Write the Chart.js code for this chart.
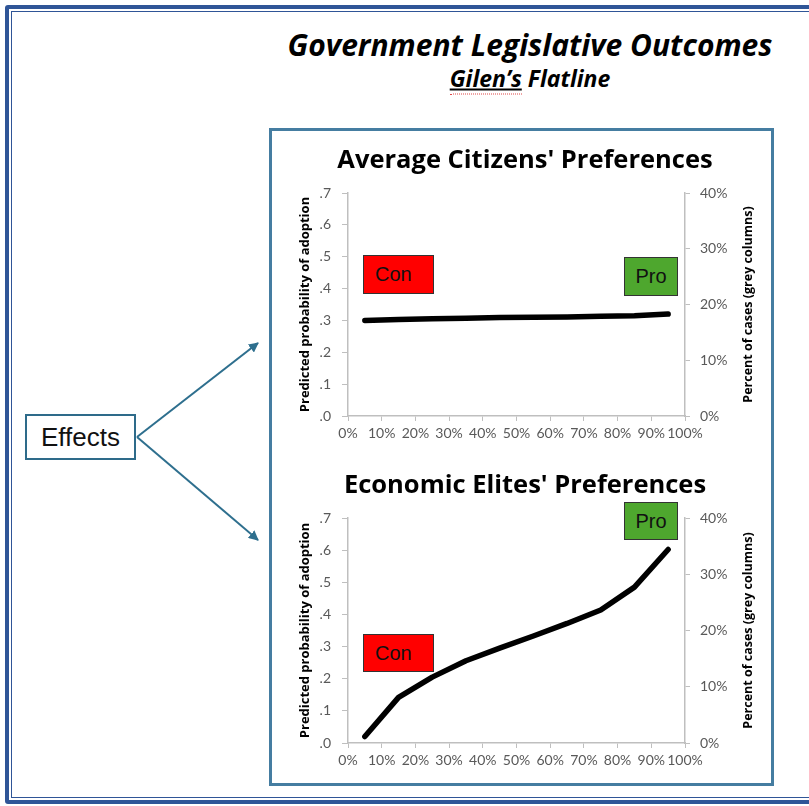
<!DOCTYPE html>
<html>
<head>
<meta charset="utf-8">
<title>Government Legislative Outcomes</title>
<script src="https://cdn.jsdelivr.net/npm/chart.js@4.4.1/dist/chart.umd.min.js"></script>
<style>
  html, body { margin: 0; padding: 0; background: #fff; }
  body { width: 809px; height: 806px; position: relative; overflow: hidden; font-family: "Liberation Sans", Arial, sans-serif; }
  .frame-outer { position: absolute; left: 5px; top: 5px; width: 840px; height: 799px; box-sizing: border-box; border: 4px solid #2F5597; border-radius: 3px; }
  .frame-inner { position: absolute; left: 11px; top: 11px; width: 830px; height: 787px; box-sizing: border-box; border: 1px solid #2F5597; }
  .main-title { position: absolute; left: 270px; width: 520px; top: 45px; transform: translateY(-50%); text-align: center; font: italic 700 30px/1 "Open Sans", sans-serif; color: #000; }
  .sub-title { position: absolute; left: 270px; width: 520px; top: 78px; transform: translateY(-50%); text-align: center; font: italic 700 23px/1 "Open Sans", sans-serif; color: #000; }
  .sub-title .spell { text-decoration: underline; border-bottom: 1px dotted #e04848; padding-bottom: 0; }
  .panel { position: absolute; left: 269px; top: 128px; width: 505px; height: 658px; box-sizing: border-box; border: 3px solid #457DA1; }
  .effects { position: absolute; left: 25px; top: 414px; width: 111px; height: 46px; box-sizing: border-box; border: 2px solid #2E6B8A; font-size: 26px; line-height: 42px; text-align: center; color: #111; }
  .tag { position: absolute; box-sizing: border-box; border: 1px solid #333; font-size: 20px; color: #111; display: flex; align-items: center; }
  .con { background: #FF0000; padding-left: 11px; }
  .pro { background: #4EA72E; justify-content: center; }
  canvas { position: absolute; }
  svg { position: absolute; left: 0; top: 0; }
</style>
</head>
<body>
<div class="frame-outer"></div>
<div class="frame-inner"></div>

<div class="main-title">Government Legislative Outcomes</div>
<div class="sub-title"><span class="spell">Gilen’s</span> Flatline</div>

<div class="panel"></div>

<div class="effects">Effects</div>
<svg width="809" height="806">
  <defs>
    <marker id="head" viewBox="0 0 10 10" refX="9" refY="5" markerWidth="5" markerHeight="5" orient="auto">
      <path d="M0,0 L10,5 L0,10 z" fill="#2E6F8E"/>
    </marker>
  </defs>
  <line x1="137" y1="437" x2="258" y2="343" stroke="#2E6F8E" stroke-width="2" marker-end="url(#head)"/>
  <line x1="137" y1="437" x2="258" y2="540" stroke="#2E6F8E" stroke-width="2" marker-end="url(#head)"/>
</svg>

<canvas id="citizensChart" width="506" height="320" style="left:272px; top:130px;"></canvas>
<canvas id="elitesChart" width="506" height="322" style="left:272px; top:455px;"></canvas>

<div class="tag con" style="left:363px; top:255px; width:71px; height:39px;">Con</div>
<div class="tag pro" style="left:624px; top:257px; width:54px; height:39px;">Pro</div>
<div class="tag con" style="left:363px; top:634px; width:71px; height:38px;">Con</div>
<div class="tag pro" style="left:624px; top:502px; width:54px; height:38px;">Pro</div>

<script>
// policy preference percentiles (x) and predicted probability of adoption (y)
const percentiles = [5, 15, 25, 35, 45, 55, 65, 75, 85, 95];
const citizensAdoption = [0.300, 0.303, 0.305, 0.307, 0.309, 0.310, 0.311, 0.313, 0.315, 0.320];
const elitesAdoption = [0.020, 0.142, 0.205, 0.256, 0.295, 0.333, 0.372, 0.414, 0.485, 0.602];

const chartTitles = ["Average Citizens' Preferences", "Economic Elites' Preferences"];
const leftAxisTitle = 'Predicted probability of adoption';
const rightAxisTitle = 'Percent of cases (grey columns)';

const probLabels = ['.0', '.1', '.2', '.3', '.4', '.5', '.6', '.7'];
const percentileLabels = ['0%', '10%', '20%', '30%', '40%', '50%', '60%', '70%', '80%', '90%', '100%'];
const caseLabels = ['0%', '10%', '20%', '30%', '40%'];

const axisGrey = '#BFBFBF';
const tickGrey = '#595959';

// Chart.js rotates right-hand titles the other way, so draw this one ourselves
const rightTitlePlugin = {
    id: 'rightTitle',
    afterDraw(chart) {
        const s = chart.scales.y2;
        const ctx = chart.ctx;
        ctx.save();
        ctx.translate(s.right - 30, (s.top + s.bottom) / 2);
        ctx.rotate(-Math.PI / 2);
        ctx.font = 'bold 12.5px "Open Sans"';
        ctx.fillStyle = '#000';
        ctx.textAlign = 'center';
        ctx.textBaseline = 'middle';
        ctx.fillText(rightAxisTitle, 0, 0);
        ctx.restore();
    }
};

function buildChart(canvasId, title, values) {
    const ctx = document.getElementById(canvasId).getContext('2d');
    return new Chart(ctx, {
        type: 'line',
        data: {
            datasets: [{
                data: percentiles.map((x, i) => ({ x: x, y: values[i] })),
                borderColor: '#000',
                borderWidth: 5.5,
                borderCapStyle: 'round',
                borderJoinStyle: 'round',
                pointRadius: 0,
                tension: 0,
                yAxisID: 'y'
            }]
        },
        options: {
            responsive: false,
            animation: false,
            layout: { padding: 0 },
            plugins: {
                legend: { display: false },
                tooltip: { enabled: false },
                title: {
                    display: true,
                    text: title,
                    color: '#000',
                    font: { family: 'Open Sans', size: 25.5, weight: 'bold', lineHeight: 1.2 },
                    padding: { top: 15, bottom: 17.4 }
                }
            },
            scales: {
                x: {
                    type: 'linear',
                    min: 0,
                    max: 100,
                    border: { display: true, color: axisGrey, width: 1.5 },
                    grid: { drawOnChartArea: false, drawTicks: true, tickLength: 5, color: axisGrey },
                    ticks: {
                        stepSize: 10,
                        autoSkip: false,
                        maxRotation: 0,
                        minRotation: 0,
                        padding: 4,
                        color: tickGrey,
                        font: { family: 'Lato', size: 14 },
                        callback: (v, i) => percentileLabels[i]
                    },
                    afterFit: s => { s.height = 34; }
                },
                y: {
                    position: 'left',
                    min: 0,
                    max: 0.7,
                    border: { display: true, color: axisGrey, width: 1.5 },
                    grid: { drawOnChartArea: false, drawTicks: true, tickLength: 6, color: axisGrey },
                    ticks: {
                        stepSize: 0.1,
                        padding: 11,
                        color: tickGrey,
                        font: { family: 'Lato', size: 14 },
                        callback: (v, i) => probLabels[i]
                    },
                    title: {
                        display: true,
                        text: leftAxisTitle,
                        color: '#000',
                        font: { family: 'Open Sans', size: 13, weight: 'bold' },
                        padding: { top: 25, bottom: 0 }
                    },
                    afterFit: s => { s.width = 76; }
                },
                y2: {
                    position: 'right',
                    min: 0,
                    max: 40,
                    border: { display: true, color: axisGrey, width: 1.5 },
                    grid: { drawOnChartArea: false, drawTicks: true, tickLength: 5, color: axisGrey },
                    ticks: {
                        stepSize: 10,
                        padding: 10,
                        color: tickGrey,
                        font: { family: 'Lato', size: 14 },
                        callback: (v, i) => caseLabels[i]
                    },
                    afterFit: s => { s.width = 93; }
                }
            }
        },
        plugins: [rightTitlePlugin]
    });
}

buildChart('citizensChart', chartTitles[0], citizensAdoption);
buildChart('elitesChart', chartTitles[1], elitesAdoption);
</script>
</body>
</html>
